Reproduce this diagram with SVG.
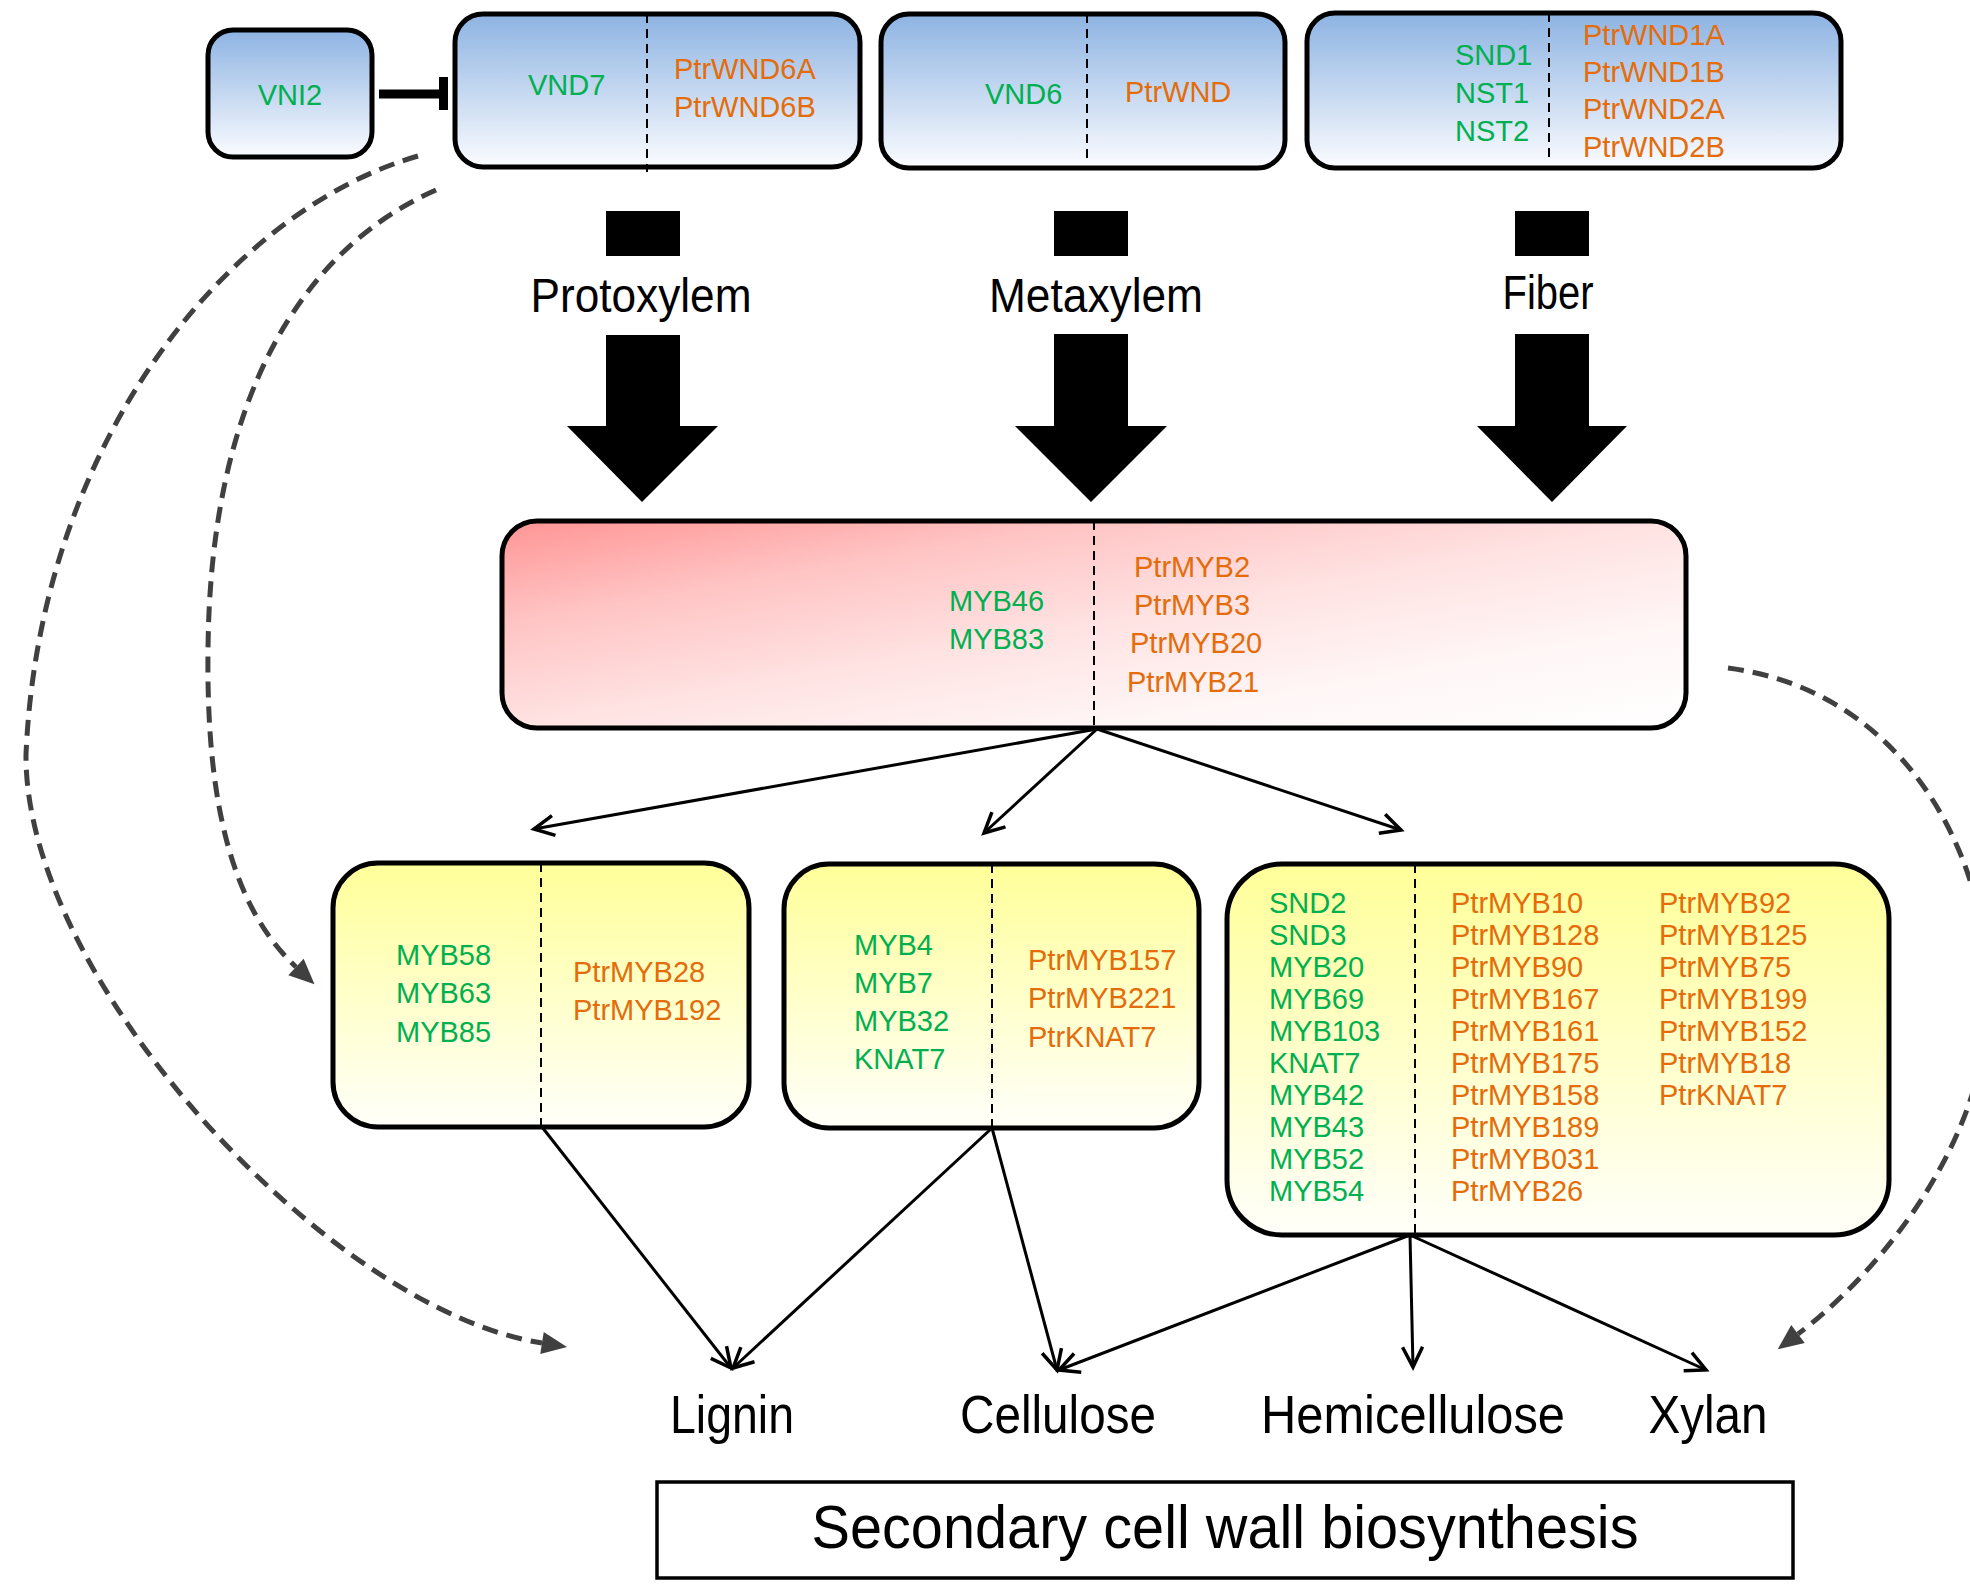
<svg xmlns="http://www.w3.org/2000/svg" width="1970" height="1584" viewBox="0 0 1970 1584">
<style>
.box{stroke:#000;stroke-width:5}
.div{stroke:#000;stroke-width:2;stroke-dasharray:9 6;fill:none}
.g{fill:#00B050;font-family:"Liberation Sans",Arial,sans-serif;font-size:29px}
.o{fill:#E46C0A;font-family:"Liberation Sans",Arial,sans-serif;font-size:29px}
.big{fill:#000;font-family:"Liberation Sans Narrow","Liberation Sans",Arial,sans-serif;text-anchor:middle}
.thin{stroke:#000;stroke-width:3;fill:none;marker-end:url(#open)}
.dash{stroke:#404040;stroke-width:5;stroke-dasharray:16 9;fill:none;marker-end:url(#tri)}
</style>
<defs>
<linearGradient id="blue" x1="0" y1="0" x2="0" y2="1">
<stop offset="0" stop-color="#8DB3E2"/><stop offset="1" stop-color="#FBFCFF"/>
</linearGradient>
<linearGradient id="yellow" x1="0" y1="0" x2="0" y2="1">
<stop offset="0" stop-color="#FFFF99"/><stop offset="1" stop-color="#FFFFFA"/>
</linearGradient>
<linearGradient id="red" x1="0" y1="0" x2="1" y2="1">
<stop offset="0" stop-color="#FF9494"/><stop offset="0.25" stop-color="#FFC4C4"/><stop offset="0.5" stop-color="#FFE2E2"/><stop offset="0.75" stop-color="#FFF6F6"/><stop offset="1" stop-color="#FFFFFF"/>
</linearGradient>
<marker id="open" markerUnits="userSpaceOnUse" markerWidth="30" markerHeight="30" refX="0" refY="0" viewBox="-25 -15 30 30" orient="auto" overflow="visible">
<path d="M-20,-10 L0,0 L-20,10" fill="none" stroke="#000" stroke-width="3.5"/>
</marker>
<marker id="tri" markerUnits="userSpaceOnUse" markerWidth="30" markerHeight="30" refX="0" refY="0" viewBox="-2 -15 32 30" orient="auto" overflow="visible">
<path d="M0,-12 L27,0 L0,12 Z" fill="#404040"/>
</marker>
</defs>
<rect width="1970" height="1584" fill="#fff"/>

<g id="connectors">
<line x1="379" y1="94" x2="440" y2="94" stroke="#000" stroke-width="9"/>
<rect x="439" y="77" width="9" height="33" fill="#000"/>
<line class="thin" x1="1097" y1="729" x2="534" y2="829"/>
<line class="thin" x1="1097" y1="729" x2="984" y2="833"/>
<line class="thin" x1="1097" y1="729" x2="1401" y2="830"/>
<line class="thin" x1="542" y1="1127" x2="731" y2="1368"/>
<line class="thin" x1="992" y1="1128" x2="733" y2="1368"/>
<line class="thin" x1="992" y1="1128" x2="1057" y2="1370"/>
<line class="thin" x1="1410" y1="1235" x2="1059" y2="1370"/>
<line class="thin" x1="1410" y1="1235" x2="1413" y2="1367"/>
<line class="thin" x1="1410" y1="1235" x2="1706" y2="1370"/>
<path class="dash" d="M418,156 C230,210 40,440 26,754 C24,980 330,1310 542,1343"/>
<path class="dash" d="M436,190 C300,250 210,400 208,650 C206,810 235,910 296,967"/>
<path class="dash" d="M1728,668 C1900,690 1990,850 1988,1000 C1986,1150 1870,1280 1798,1334"/>
<rect x="606" y="211" width="74" height="45" fill="#000"/>
<polygon points="606,335 680,335 680,426 718,426 642,502 567,426 606,426" fill="#000"/>
<rect x="1054" y="211" width="74" height="45" fill="#000"/>
<polygon points="1054,334 1128,334 1128,426 1167,426 1091,502 1015,426 1054,426" fill="#000"/>
<rect x="1515" y="211" width="74" height="45" fill="#000"/>
<polygon points="1515,334 1589,334 1589,426 1627,426 1552,502 1477,426 1515,426" fill="#000"/>
</g>

<g id="vni2">
<rect class="box" x="208" y="30" width="164" height="127" rx="25" fill="url(#blue)"/>
<text class="g" x="290" y="105" text-anchor="middle">VNI2</text>
</g>
<g id="vnd7">
<rect class="box" x="455" y="14" width="405" height="153" rx="28" fill="url(#blue)"/>
<line class="div" x1="647" y1="14" x2="647" y2="172"/>
<text class="g" x="528" y="95">VND7</text>
<text class="o" x="674" y="79">PtrWND6A</text>
<text class="o" x="674" y="117">PtrWND6B</text>
</g>
<g id="vnd6">
<rect class="box" x="881" y="14" width="404" height="154" rx="28" fill="url(#blue)"/>
<line class="div" x1="1087" y1="14" x2="1087" y2="162"/>
<text class="g" x="985" y="104">VND6</text>
<text class="o" x="1125" y="102">PtrWND</text>
</g>
<g id="fiber-tf">
<rect class="box" x="1307" y="13" width="534" height="155" rx="28" fill="url(#blue)"/>
<line class="div" x1="1549" y1="13" x2="1549" y2="162"/>
<text class="g" x="1455" y="65">SND1</text>
<text class="g" x="1455" y="103">NST1</text>
<text class="g" x="1455" y="141">NST2</text>
<text class="o" x="1583" y="45">PtrWND1A</text>
<text class="o" x="1583" y="82">PtrWND1B</text>
<text class="o" x="1583" y="119">PtrWND2A</text>
<text class="o" x="1583" y="157">PtrWND2B</text>
</g>

<g id="labels-cell">
<text class="big" x="641" y="312" font-size="48" textLength="221" lengthAdjust="spacingAndGlyphs">Protoxylem</text>
<text class="big" x="1096" y="312" font-size="48" textLength="214" lengthAdjust="spacingAndGlyphs">Metaxylem</text>
<text class="big" x="1548" y="309" font-size="48" textLength="91" lengthAdjust="spacingAndGlyphs">Fiber</text>
</g>

<g id="myb46">
<rect class="box" x="502" y="521" width="1184" height="207" rx="35" fill="url(#red)"/>
<line class="div" x1="1094" y1="521" x2="1094" y2="728"/>
<text class="g" x="949" y="611">MYB46</text>
<text class="g" x="949" y="649">MYB83</text>
<text class="o" x="1134" y="577">PtrMYB2</text>
<text class="o" x="1134" y="615">PtrMYB3</text>
<text class="o" x="1130" y="653">PtrMYB20</text>
<text class="o" x="1127" y="692">PtrMYB21</text>
</g>

<g id="lignin-tf">
<rect class="box" x="333" y="863" width="416" height="264" rx="45" fill="url(#yellow)"/>
<line class="div" x1="541" y1="863" x2="541" y2="1127"/>
<text class="g" x="396" y="965">MYB58</text>
<text class="g" x="396" y="1003">MYB63</text>
<text class="g" x="396" y="1042">MYB85</text>
<text class="o" x="573" y="982">PtrMYB28</text>
<text class="o" x="573" y="1020">PtrMYB192</text>
</g>
<g id="cellulose-tf">
<rect class="box" x="784" y="864" width="415" height="264" rx="45" fill="url(#yellow)"/>
<line class="div" x1="992" y1="864" x2="992" y2="1128"/>
<text class="g" x="854" y="955">MYB4</text>
<text class="g" x="854" y="993">MYB7</text>
<text class="g" x="854" y="1031">MYB32</text>
<text class="g" x="854" y="1069">KNAT7</text>
<text class="o" x="1028" y="970">PtrMYB157</text>
<text class="o" x="1028" y="1008">PtrMYB221</text>
<text class="o" x="1028" y="1047">PtrKNAT7</text>
</g>
<g id="hemicellulose-tf">
<rect class="box" x="1227" y="864" width="662" height="371" rx="55" fill="url(#yellow)"/>
<line class="div" x1="1415" y1="864" x2="1415" y2="1235"/>
<g class="g" font-size="28">
<text x="1269" y="913">SND2</text>
<text x="1269" y="945">SND3</text>
<text x="1269" y="977">MYB20</text>
<text x="1269" y="1009">MYB69</text>
<text x="1269" y="1041">MYB103</text>
<text x="1269" y="1073">KNAT7</text>
<text x="1269" y="1105">MYB42</text>
<text x="1269" y="1137">MYB43</text>
<text x="1269" y="1169">MYB52</text>
<text x="1269" y="1201">MYB54</text>
</g>
<g class="o">
<text x="1451" y="913">PtrMYB10</text>
<text x="1451" y="945">PtrMYB128</text>
<text x="1451" y="977">PtrMYB90</text>
<text x="1451" y="1009">PtrMYB167</text>
<text x="1451" y="1041">PtrMYB161</text>
<text x="1451" y="1073">PtrMYB175</text>
<text x="1451" y="1105">PtrMYB158</text>
<text x="1451" y="1137">PtrMYB189</text>
<text x="1451" y="1169">PtrMYB031</text>
<text x="1451" y="1201">PtrMYB26</text>
<text x="1659" y="913">PtrMYB92</text>
<text x="1659" y="945">PtrMYB125</text>
<text x="1659" y="977">PtrMYB75</text>
<text x="1659" y="1009">PtrMYB199</text>
<text x="1659" y="1041">PtrMYB152</text>
<text x="1659" y="1073">PtrMYB18</text>
<text x="1659" y="1105">PtrKNAT7</text>
</g>
</g>

<g id="products">
<text class="big" x="732" y="1433" font-size="54" textLength="124" lengthAdjust="spacingAndGlyphs">Lignin</text>
<text class="big" x="1058" y="1433" font-size="54" textLength="196" lengthAdjust="spacingAndGlyphs">Cellulose</text>
<text class="big" x="1413" y="1433" font-size="54" textLength="304" lengthAdjust="spacingAndGlyphs">Hemicellulose</text>
<text class="big" x="1708" y="1433" font-size="54" textLength="119" lengthAdjust="spacingAndGlyphs">Xylan</text>
</g>
<g id="scw">
<rect x="657" y="1482" width="1136" height="96" fill="#fff" stroke="#000" stroke-width="3.5"/>
<text class="big" x="1225" y="1548" font-size="62" textLength="827" lengthAdjust="spacingAndGlyphs">Secondary cell wall biosynthesis</text>
</g>
</svg>
